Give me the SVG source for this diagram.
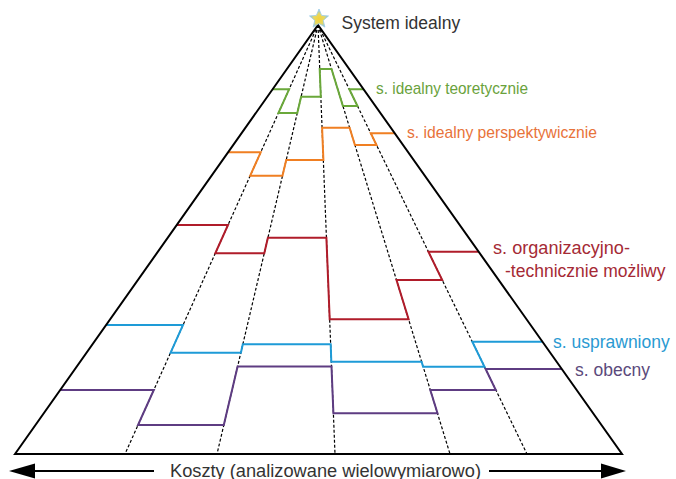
<svg xmlns="http://www.w3.org/2000/svg" width="676" height="479" viewBox="0 0 676 479">
<defs>
<radialGradient id="starGrad" cx="0.5" cy="0.55" r="0.5">
<stop offset="0" stop-color="#f5d23a"/>
<stop offset="0.55" stop-color="#e8d860"/>
<stop offset="1" stop-color="#8ec5e6"/>
</radialGradient>
</defs>
<style>
text{font-family:"Liberation Sans",Arial,sans-serif;font-size:17.5px}
.small{font-size:17px}
.dash{stroke:#000;stroke-width:1.2;stroke-dasharray:3 2;fill:none}
.lvl{fill:none;stroke-width:2;stroke-linejoin:miter}
.tri{fill:none;stroke:#000;stroke-width:2}
</style>
<rect width="676" height="479" fill="#fff"/>
<g id="guides">
<line class="dash" x1="318" y1="25" x2="125" y2="454"/>
<line class="dash" x1="318" y1="25" x2="217" y2="454"/>
<line class="dash" x1="318" y1="25" x2="335" y2="454"/>
<line class="dash" x1="318" y1="25" x2="450" y2="454"/>
<line class="dash" x1="318" y1="25" x2="527" y2="454"/>
</g>
<g id="connectors">
<path id="l-teor" class="lvl" stroke="#6aa83a" d="M272.6,89.3 L289.1,89.3 L278.4,113 L297.3,113 L301.1,96.7 L320.8,96.7 L319.7,69 L331.5,69 L342.9,106 L357.5,106 L349.3,89.3 L363.6,89.3"/>
<path id="l-persp" class="lvl" stroke="#f07f22" d="M228.1,152.3 L260.7,152.3 L250.2,175.7 L282.5,175.7 L286.2,160 L323.4,160 L322.1,127.7 L349.6,127.7 L354.9,145 L376.5,145 L370.8,133.3 L394.7,133.3"/>
<path id="l-org" class="lvl" stroke="#b01c2a" d="M176.7,225 L228,225 L215.3,253.3 L264.3,253.3 L267.9,237.7 L326.4,237.7 L329.7,319.3 L408.6,319.3 L396.5,280 L442.2,280 L428.4,251.7 L478.6,251.7"/>
<path id="l-uspr" class="lvl" stroke="#1e9bd7" d="M106.1,325 L183,325 L170.6,352.7 L240.9,352.7 L242.8,344.3 L330.7,344.3 L331.3,361.7 L421.6,361.7 L423.1,366.7 L484.5,366.7 L472.3,341.7 L542.4,341.7"/>
<path id="l-obec" class="lvl" stroke="#5e3c82" d="M60.2,390 L153.8,390 L138,425 L223.8,425 L237.6,366.5 L331.5,366.5 L333.4,413.3 L437.5,413.3 L430.3,390 L495.8,390 L485.6,369 L561.8,369"/>
<g id="cost-arrows">
<line x1="30" y1="471" x2="154" y2="471" stroke="#000" stroke-width="2"/>
<polygon points="9,471 35,463.5 35,478.5" fill="#000"/>
<line x1="489" y1="471" x2="604" y2="471" stroke="#000" stroke-width="2"/>
<polygon points="626,471 601,463.5 601,478.5" fill="#000"/>
</g>
</g>
<g id="pyramid">
<path class="tri" d="M15,454 L318,25 L622,454 Z"/>
</g>
<g id="apex">
<polygon points="319,9 321.6,15.4 328.5,15.9 323.2,20.4 324.9,27.1 319,23.5 313.1,27.1 314.8,20.4 309.5,15.9 316.4,15.4" fill="url(#starGrad)" stroke="#9ccbe6" stroke-width="0.8"/>
<text x="341.5" y="29" fill="#333">System idealny</text>
</g>
<g id="label-teor"><text class="small" x="376" y="94" fill="#6aa23c" textLength="152" lengthAdjust="spacingAndGlyphs">s. idealny teoretycznie</text></g>
<g id="label-persp"><text class="small" x="407" y="138" fill="#e8733a" textLength="190" lengthAdjust="spacingAndGlyphs">s. idealny perspektywicznie</text></g>
<g id="label-org"><text x="493" y="253.5" fill="#a52a35" textLength="137" lengthAdjust="spacingAndGlyphs">s. organizacyjno-</text><text x="505" y="276.5" fill="#a52a35">-technicznie możliwy</text></g>
<g id="label-uspr"><text x="553" y="348" fill="#2a9ad2">s. usprawniony</text></g>
<g id="label-obec"><text x="575" y="376" fill="#5b4a7c">s. obecny</text></g>
<g id="label-cost"><text x="170" y="476.5" fill="#333" textLength="311" lengthAdjust="spacingAndGlyphs">Koszty (analizowane wielowymiarowo)</text></g>
</svg>
